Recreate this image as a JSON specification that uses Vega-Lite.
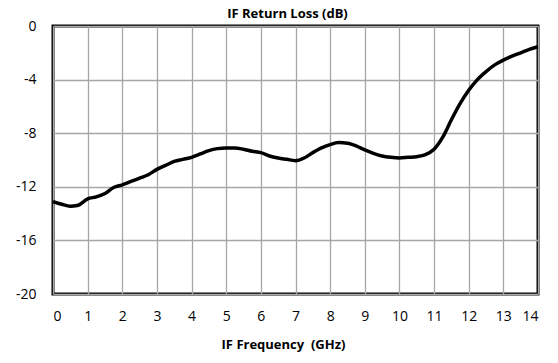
{
  "$schema": "https://vega.github.io/schema/vega-lite/v6.json",
  "width": 485,
  "height": 268,
  "autosize": {"type": "none"},
  "padding": {"left": 53, "top": 26, "right": 20, "bottom": 69},
  "background": "white",
  "title": {
    "text": "IF Return Loss (dB)",
    "font": "Open Sans",
    "fontSize": 13,
    "fontWeight": "bold",
    "color": "black",
    "offset": -2,
    "dx": -8
  },
  "config": {
    "view": {"stroke": "black", "strokeWidth": 3},
    "font": "Open Sans"
  },
  "data": {
    "values": [
      {"freq": 0, "rl": -13.1}, {"freq": 0.25, "rl": -13.3}, {"freq": 0.5, "rl": -13.45},
      {"freq": 0.7, "rl": -13.4}, {"freq": 1.0, "rl": -12.9}, {"freq": 1.25, "rl": -12.75},
      {"freq": 1.5, "rl": -12.5}, {"freq": 1.75, "rl": -12.05}, {"freq": 2.0, "rl": -11.85},
      {"freq": 2.25, "rl": -11.6}, {"freq": 2.5, "rl": -11.35}, {"freq": 2.75, "rl": -11.1},
      {"freq": 3.0, "rl": -10.7}, {"freq": 3.25, "rl": -10.4}, {"freq": 3.5, "rl": -10.1},
      {"freq": 3.75, "rl": -9.95}, {"freq": 4.0, "rl": -9.8}, {"freq": 4.25, "rl": -9.55},
      {"freq": 4.5, "rl": -9.3}, {"freq": 4.75, "rl": -9.15}, {"freq": 5.0, "rl": -9.1},
      {"freq": 5.25, "rl": -9.1}, {"freq": 5.5, "rl": -9.2}, {"freq": 5.75, "rl": -9.35},
      {"freq": 6.0, "rl": -9.45}, {"freq": 6.25, "rl": -9.7}, {"freq": 6.5, "rl": -9.85},
      {"freq": 6.75, "rl": -9.95}, {"freq": 7.0, "rl": -10.05}, {"freq": 7.25, "rl": -9.85},
      {"freq": 7.5, "rl": -9.45}, {"freq": 7.75, "rl": -9.1}, {"freq": 8.0, "rl": -8.85},
      {"freq": 8.25, "rl": -8.7}, {"freq": 8.5, "rl": -8.75}, {"freq": 8.75, "rl": -8.95},
      {"freq": 9.0, "rl": -9.25}, {"freq": 9.25, "rl": -9.5}, {"freq": 9.5, "rl": -9.7},
      {"freq": 9.75, "rl": -9.8}, {"freq": 10.0, "rl": -9.85}, {"freq": 10.25, "rl": -9.8},
      {"freq": 10.5, "rl": -9.75}, {"freq": 10.75, "rl": -9.6}, {"freq": 11.0, "rl": -9.2},
      {"freq": 11.25, "rl": -8.3}, {"freq": 11.5, "rl": -7.0}, {"freq": 11.75, "rl": -5.8},
      {"freq": 12.0, "rl": -4.8}, {"freq": 12.25, "rl": -4.0}, {"freq": 12.5, "rl": -3.4},
      {"freq": 12.75, "rl": -2.9}, {"freq": 13.0, "rl": -2.55}, {"freq": 13.25, "rl": -2.25},
      {"freq": 13.5, "rl": -2.0}, {"freq": 13.75, "rl": -1.75}, {"freq": 14.0, "rl": -1.55}
    ]
  },
  "mark": {"type": "line", "color": "black", "strokeWidth": 3.5, "interpolate": "monotone"},
  "encoding": {
    "x": {
      "field": "freq",
      "type": "quantitative",
      "scale": {"domain": [0, 14], "nice": false},
      "axis": {
        "values": [0, 1, 2, 3, 4, 5, 6, 7, 8, 9, 10, 11, 12, 13, 14],
        "title": "IF Frequency\u00a0 (GHz)",
        "titleFont": "Open Sans",
        "titleFontSize": 13,
        "titleFontWeight": "bold",
        "titleColor": "black",
        "titleX": 230,
        "titlePadding": 15,
        "labelFont": "Open Sans",
        "labelFontSize": 14,
        "labelColor": "black",
        "labelPadding": 15,
        "ticks": false,
        "domain": false,
        "grid": true,
        "gridColor": "#a6a6a6",
        "gridWidth": 1.3,
        "gridOpacity": 1
      }
    },
    "y": {
      "field": "rl",
      "type": "quantitative",
      "scale": {"domain": [-20, 0], "nice": false},
      "axis": {
        "values": [-20, -16, -12, -8, -4, 0],
        "labelExpr": "'' + datum.value",
        "title": null,
        "labelFont": "Open Sans",
        "labelFontSize": 14,
        "labelColor": "black",
        "labelPadding": 17,
        "ticks": false,
        "domain": false,
        "grid": true,
        "gridColor": "#a6a6a6",
        "gridWidth": 1.3,
        "gridOpacity": 1
      }
    }
  }
}
